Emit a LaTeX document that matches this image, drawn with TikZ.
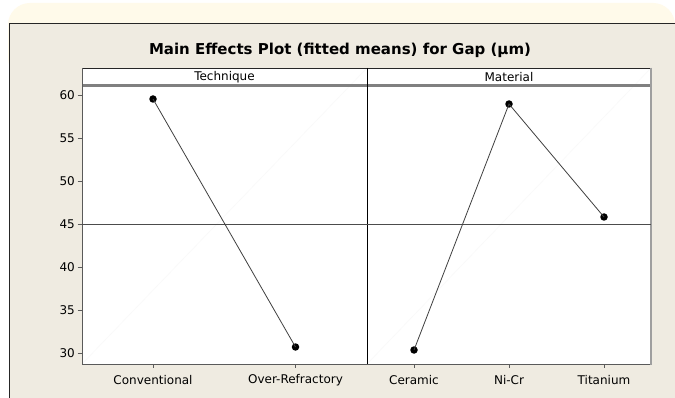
\documentclass[tikz,border=0pt]{standalone}
\usepackage{fontspec}
\setmainfont{DejaVu Sans}
\definecolor{cream}{RGB}{255,250,234}
\definecolor{panelbg}{RGB}{239,235,225}
\definecolor{axisgray}{RGB}{90,90,90}
\tikzset{
  ticklbl/.style={font=\fontsize{12}{14}\selectfont, text=black, inner sep=0pt},
  striplbl/.style={font=\fontsize{12}{14}\selectfont, text=black, inner sep=0pt},
  datapt/.style={circle, fill=black, inner sep=0pt, minimum size=7.5pt},
  effline/.style={draw=black!75, line width=0.8pt},
}
\begin{document}
\begin{tikzpicture}[x=1pt,y=-1pt]
\useasboundingbox (0,0) rectangle (675,398);
\fill[white] (0,0) rectangle (675,398);
\fill[cream, rounded corners=22pt] (8,3) rectangle (675,80);
\fill[panelbg] (9,23) rectangle (675,398);
\draw[black!85, line width=0.9pt] (675,23) -- (9,23) -- (9,398);
% title
\node[font=\bfseries\fontsize{15}{17}\selectfont, inner sep=0pt] (title) at (340,50) {Main Effects Plot (fitted means) for Gap (µm)};
% plot area
\fill[white] (82,68) rectangle (651,364);
\draw[gray!5, line width=0.6pt] (82,364) -- (367,68);
\draw[gray!5, line width=0.6pt] (367,364) -- (651,68);
\fill[black!50] (82,84.4) rectangle (651,86.6);
\draw[black!85, line width=0.8pt] (82,68) -- (651,68);
\draw[axisgray, line width=0.9pt] (82,68) -- (82,364) -- (651,364);
\draw[gray!75, line width=1.4pt] (651,67.6) -- (651,364.6);
\draw[black, line width=1pt] (367,68) -- (367,364);
\node[striplbl] (s1) at (224.5,77) {Technique};
\node[striplbl] (s2) at (509,77) {Material};
% reference line
\draw[black!70, line width=0.6pt] (82,224) -- (651,224);
% y ticks
\foreach \v in {30,35,...,60} {
  \pgfmathsetmacro{\yy}{353-(\v-30)*8.6}
  \draw[axisgray, line width=0.9pt] (77.5,\yy) -- (82,\yy);
  \node[ticklbl, anchor=east] at (75,\yy) {\v};
}
% x ticks and labels
\foreach \xx/\lab in {153/Conventional, 295.5/Over-Refractory, 414/Ceramic, 509/Ni-Cr, 604/Titanium} {
  \draw[axisgray, line width=0.9pt] (\xx,364) -- (\xx,367.5);
  \node[ticklbl] at (\xx,380) {\lab};
}
% data
\node[datapt] (conv) at (153,99) {};
\node[datapt] (over) at (295.5,347) {};
\node[datapt] (cer) at (414,350) {};
\node[datapt] (nicr) at (509,104) {};
\node[datapt] (ti) at (604,217) {};
\draw[effline] (conv.center) -- (over.center);
\draw[effline] (cer.center) -- (nicr.center) -- (ti.center);
\end{tikzpicture}
\end{document}
